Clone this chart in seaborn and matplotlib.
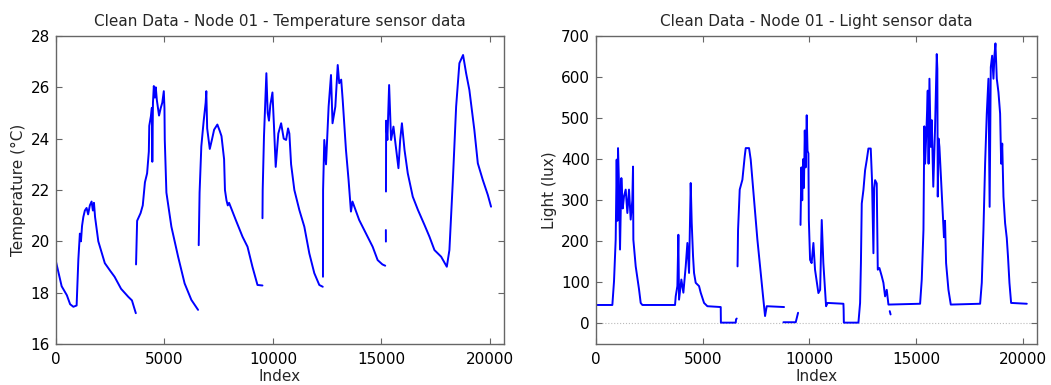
import numpy as np
import pandas as pd
import seaborn as sns
import matplotlib
matplotlib.use("Agg")
import matplotlib.pyplot as plt

# ---------------------------------------------------------------
# values, one sub-list per unbroken
# stretch of recorded data (gaps in the record split the trace)
# ---------------------------------------------------------------
temp_index = [
    [0, 260, 500, 650, 800, 950, 1030, 1100, 1150, 1200, 1260, 1330, 1410, 1480, 1560, 1640, 1700, 1750, 1800,
     1950, 2250, 2500, 2700, 3000, 3330, 3500, 3680],
    [3690, 3740, 3900, 4000, 4100, 4200, 4280, 4300, 4380, 4420, 4440, 4470, 4510, 4560, 4600, 4650, 4750,
     4830, 4900, 4970, 5000, 5015, 5090, 5320, 5630, 5930, 6240, 6550],
    [6580, 6620, 6700, 6810, 6900, 6930, 6970, 7090, 7200, 7290, 7440, 7550, 7630, 7750, 7790, 7860, 7920,
     7980, 8290, 8600, 8830, 9060, 9290, 9520],
    [9520, 9530, 9590, 9700, 9760, 9820, 9880, 9980, 10050, 10130, 10250, 10380, 10500, 10610, 10700, 10760,
     10840, 10990, 11220, 11450, 11680, 11910, 12140, 12300],
    [12310, 12315, 12370, 12450, 12570, 12680, 12750, 12880, 12990, 13060, 13150, 13220, 13370, 13490, 13600,
     13670, 13980, 14290, 14600, 14830, 15050, 15180],
    [15210, 15212],
    [15215, 15222, 15280, 15360, 15450, 15560, 15670, 15790, 15870, 15950, 16070, 16220, 16450, 16690, 16990,
     17220, 17450, 17760, 18020, 18140, 18300, 18450, 18600, 18770, 18910, 19060, 19290, 19450, 19680, 19910,
     20060],
]
temp_value = [
    [19.2, 18.25, 17.9, 17.55, 17.45, 17.5, 19.3, 20.3, 20.0, 20.6, 20.95, 21.2, 21.3, 21.05, 21.4, 21.55, 21.2, 21.5, 20.95,
     20.0, 19.15, 18.85, 18.62, 18.15, 17.84, 17.7, 17.2],
    [19.1, 20.8, 21.1, 21.4, 22.3, 22.65, 23.5, 24.5, 24.9, 25.2, 23.1, 25.4, 26.05, 25.6, 26.0, 25.5, 24.9,
     25.2, 25.4, 25.85, 25.2, 23.95, 21.9, 20.57, 19.4, 18.36, 17.72, 17.33],
    [19.85, 21.9, 23.7, 24.7, 25.4, 25.85, 24.4, 23.6, 24.0, 24.35, 24.55, 24.3, 24.1, 23.2, 22.0, 21.6, 21.4,
     21.5, 20.83, 20.18, 19.79, 19.0, 18.3, 18.28],
    [20.9, 22.0, 24.1, 26.55, 25.0, 24.7, 25.3, 25.8, 24.5, 22.9, 24.2, 24.6, 24.0, 23.95, 24.4, 24.2,
     23.0, 22.0, 21.22, 20.57, 19.53, 18.76, 18.3, 18.23],
    [18.62, 22.0, 23.95, 23.0, 25.25, 26.48, 24.6, 25.25, 26.87, 26.16, 26.3, 25.5, 23.56, 22.39, 21.16,
     21.55, 20.83, 20.31, 19.79, 19.27, 19.1, 19.05],
    [20.44, 19.99],
    [21.94, 24.7, 23.95, 26.09, 23.95, 24.47, 23.69, 22.85, 23.95, 24.6, 23.56, 22.65, 21.74, 21.22, 20.64,
     20.18, 19.66, 19.4, 19.01, 19.66, 22.39, 25.25, 26.94, 27.26, 26.55, 25.9, 24.34, 23.04, 22.39, 21.81,
     21.35],
]

light_index = [
    [0, 765, 843, 921, 968, 1000, 1031, 1080, 1124, 1187, 1250, 1312, 1390, 1468, 1546, 1624, 1700, 1734, 1749,
     1859, 2015, 2093, 2171, 3702, 3733, 3811, 3858, 3889, 3998, 4092, 4202, 4280, 4358, 4436, 4483, 4545,
     4592, 4670, 4826, 4904, 5061, 5217, 5842, 5850, 6545, 6560, 6592],
    [6630, 6654, 6732, 6857, 6966, 7013, 7169, 7247, 7404, 7560, 7716, 7825, 7919, 7997, 8809],
    [8778, 9356, 9465],
    [9580, 9620, 9660, 9700, 9740, 9780, 9820, 9871, 9910, 9950, 9970, 10028, 10100, 10184, 10260, 10418,
     10500, 10574, 10650, 10777, 10850, 11590, 11600, 11610, 12293, 12371, 12410, 12449, 12527, 12605, 12683,
     12761, 12870, 12930, 12996, 13030, 13074, 13150, 13200, 13277, 13386, 13464, 13542, 13620, 13699,
     15182, 15260, 15340, 15380, 15417, 15480, 15541, 15580, 15620, 15680, 15729, 15800, 15880, 15963, 15990,
     16010, 16050, 16088, 16166, 16244, 16300, 16350, 16400, 16510, 16620, 17994, 18072, 18150, 18228, 18306,
     18384, 18440, 18494, 18557, 18619, 18665, 18712, 18775, 18853, 18931, 18980, 19030, 19087, 19165, 19243,
     19300, 19368, 19446, 20181],
    [13760, 13800],
]
light_value = [
    [45, 45, 103, 204, 399, 250, 427, 330, 180, 354, 280, 310, 326, 269, 326, 253, 300, 382, 204,
     139, 83, 50, 45, 45, 66, 91, 216, 58, 107, 75, 139, 196, 123, 342, 245, 164,
     123, 99, 91, 75, 50, 42, 40, 2, 2, 10, 12],
    [139, 228, 326, 350, 407, 427, 427, 399, 301, 204, 123, 66, 18, 42, 40],
    [3, 3, 26],
    [240, 380, 300, 400, 330, 470, 380, 507, 420, 414, 252, 155, 147, 196, 131, 74,
     82, 252, 147, 42, 50, 48, 34, 2, 2, 50, 147, 292, 325, 373, 398,
     426, 426, 349, 171, 330, 349, 341, 131, 135, 115, 99, 66, 82, 46,
     48, 107, 228, 480, 389, 470, 567, 389, 596, 430, 495, 333, 470, 656, 620,
     309, 450, 430, 349, 268, 210, 250, 147, 82, 46, 48, 99, 228, 389, 511,
     596, 284, 624, 652, 596, 652, 682, 596, 563, 511, 389, 438, 309, 244, 208,
     163, 99, 50, 48],
    [30, 22],
]


def to_frame(index_parts, value_parts, name):
    rows = []
    for seg, (xs, ys) in enumerate(zip(index_parts, value_parts)):
        n = min(len(xs), len(ys))
        rows.append(pd.DataFrame({"Index": xs[:n], name: ys[:n], "seg": seg}))
    return pd.concat(rows, ignore_index=True)


temp_df = to_frame(temp_index, temp_value, "Temperature")
light_df = to_frame(light_index, light_value, "Light")

sns.set_style("ticks", {
    "axes.edgecolor": "#666666",
    "xtick.color": "#666666",
    "ytick.color": "#666666",
    "xtick.direction": "in",
    "ytick.direction": "in",
    "xtick.top": True,
    "ytick.right": True,
})
plt.rcParams["font.family"] = ["DejaVu Sans"]
plt.rcParams["xtick.labelcolor"] = "black"
plt.rcParams["ytick.labelcolor"] = "black"

fig = plt.figure(figsize=(10.51, 3.85), dpi=100)
ax1 = fig.add_axes([0.0533, 0.1065, 0.4263, 0.8])
ax2 = fig.add_axes([0.5671, 0.1065, 0.4196, 0.8])

# temperature panel
sns.lineplot(data=temp_df, x="Index", y="Temperature", units="seg", estimator=None,
             color="#0000ff", lw=1.4, ax=ax1)
ax1.set_xlim(0, 20660)
ax1.set_ylim(16, 28)
ax1.set_title("Clean Data - Node 01 - Temperature sensor data", fontsize=11, pad=7)
ax1.set_xlabel("Index", fontsize=11, labelpad=1)
ax1.set_ylabel("Temperature (°C)", fontsize=11, labelpad=3)

# light panel
ax2.axhline(0, color="#bbbbbb", ls=":", lw=0.8, zorder=0)
sns.lineplot(data=light_df, x="Index", y="Light", units="seg", estimator=None,
             color="#0000ff", lw=1.4, ax=ax2)
ax2.set_xlim(0, 20660)
ax2.set_ylim(-50, 700)
ax2.set_title("Clean Data - Node 01 - Light sensor data", fontsize=11, pad=7)
ax2.set_xlabel("Index", fontsize=11, labelpad=1)
ax2.set_ylabel("Light (lux)", fontsize=11, labelpad=3)

for ax in (ax1, ax2):
    ax.set_xticks([0, 5000, 10000, 15000, 20000])
    ax.tick_params(axis="both", which="major", labelsize=11, length=4, width=0.8)
    ax.tick_params(axis="x", pad=6)
    ax.tick_params(axis="y", pad=4.5)
    for sp in ax.spines.values():
        sp.set_linewidth(1.0)

fig.savefig("out.png", dpi=100)
